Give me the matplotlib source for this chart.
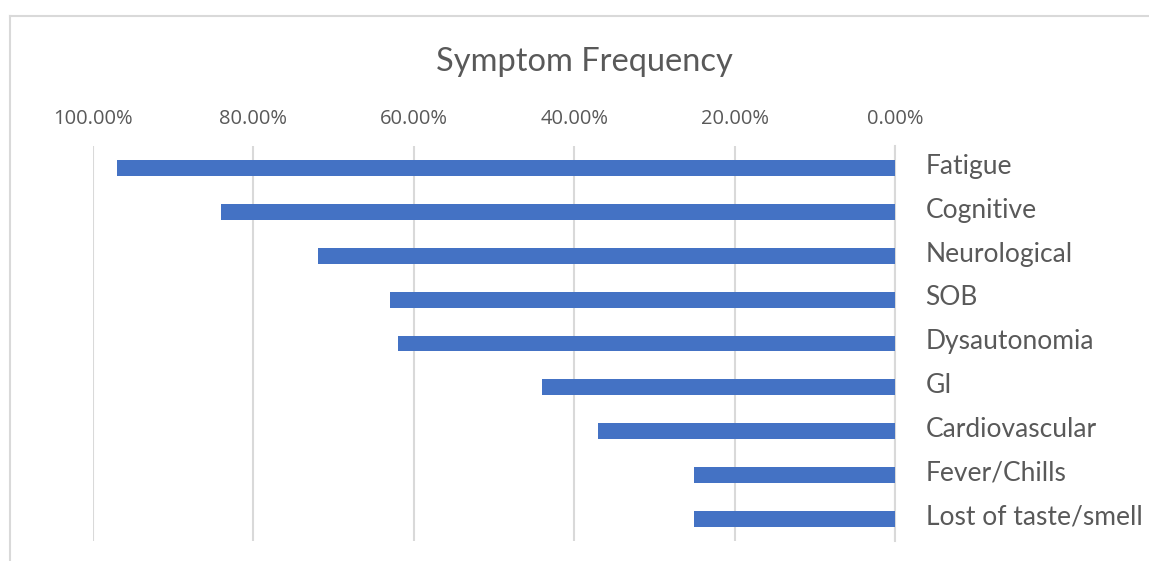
import matplotlib.pyplot as plt
from matplotlib.lines import Line2D
from matplotlib.ticker import FuncFormatter
from matplotlib.transforms import ScaledTranslation

symptoms = ['Fatigue', 'Cognitive', 'Neurological', 'SOB', 'Dysautonomia',
            'GI', 'Cardiovascular', 'Fever/Chills', 'Lost of taste/smell']
frequency = [0.97, 0.84, 0.72, 0.63, 0.62, 0.44, 0.37, 0.25, 0.25]
ticks = [1.0, 0.8, 0.6, 0.4, 0.2, 0.0]

text_color = '#595959'
grid_color = '#d9d9d9'

fig = plt.figure(figsize=(11.49, 5.61), dpi=100)
ax = fig.add_axes([0.0809, 0.0357, 0.698, 0.704])

y = list(range(len(symptoms)))
ax.barh(y, frequency, height=0.36, color='#4472C4', zorder=3)

ax.set_xlim(1.0, 0.0)
ax.set_ylim(len(symptoms) - 0.5, -0.5)
ax.set_xticks(ticks)
ax.xaxis.set_major_formatter(FuncFormatter(lambda v, _: f'{v * 100:.2f}%'))
ax.xaxis.tick_top()
ax.tick_params(axis='x', length=0, pad=12.5, labelsize=14.5, labelcolor=text_color)
for lbl in ax.get_xticklabels():
    lbl.set_fontfamily('Open Sans')

ax.yaxis.tick_right()
ax.set_yticks(y)
ax.set_yticklabels(symptoms, fontfamily='Lato', fontsize=19, color=text_color)
ax.tick_params(axis='y', length=0, pad=22)
# nudge the category names up a little so the capitals sit level with the bars
lift = ScaledTranslation(0, 3 / 72, fig.dpi_scale_trans)
for lbl in ax.get_yticklabels():
    lbl.set_transform(lbl.get_transform() + lift)

ax.grid(axis='x', color=grid_color, linewidth=1.5, zorder=0)
for side in ['top', 'left', 'bottom']:
    ax.spines[side].set_visible(False)
ax.spines['right'].set_color(grid_color)
ax.spines['right'].set_linewidth(1.5)

fig.text(0.509, 0.889, 'Symptom Frequency', ha='center', va='center',
         fontfamily='Lato', fontsize=23.5, color=text_color)

# chart frame, only its top and left edges fall inside the image
fig.add_artist(Line2D([0.0087, 0.0087], [0.0, 0.9715], color=grid_color,
                      linewidth=1.5, transform=fig.transFigure))
fig.add_artist(Line2D([0.0087, 1.0], [0.9715, 0.9715], color=grid_color,
                      linewidth=1.5, transform=fig.transFigure))

fig.savefig('out.png', dpi=100)
